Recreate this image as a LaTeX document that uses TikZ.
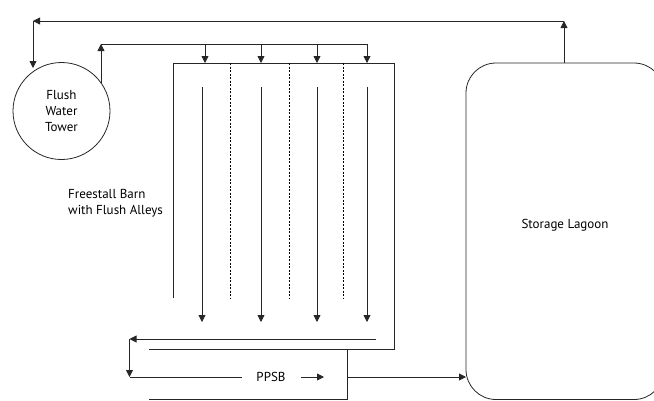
\documentclass[tikz,border=0pt]{standalone}
\usepackage{fontspec}
\setmainfont{PT Sans}
\usetikzlibrary{arrows.meta}
\begin{document}
\begin{tikzpicture}[x=1pt,y=-1pt,
  ln/.style={line width=0.8pt,draw=black!85},
  arr/.style={ln,-{Triangle[length=7pt,width=7pt]}},
  dsh/.style={line width=0.8pt,dash pattern=on 2pt off 1.5pt},
  lbl/.style={font=\fontsize{13}{16}\selectfont,inner sep=0pt}]
\useasboundingbox (0,0) rectangle (654,400);
% tower
\node[ln,draw,circle,minimum size=97pt,inner sep=0pt,align=center,lbl] (tower) at (61.5,111) {Flush\\Water\\Tower};
% lagoon
\draw[ln,rounded corners=30pt] (466,63) rectangle (664,399.5);
\node[lbl] (lagoon) at (565,225) {Storage Lagoon};
\coordinate (lagtop) at (564,63);
\coordinate (lagin) at (466,377);
% barn
\coordinate (b1) at (173,63);
\coordinate (b2) at (394,63);
\draw[ln] (173,298) -- (b1) -- (b2) -- (394,349) -- (149,349);
\node[lbl,align=left,anchor=west] (barnlbl) at (68,203.5) {Freestall Barn\\with Flush Alleys};
% return line to tower
\coordinate (r1) at (564,21);
\coordinate (r2) at (33,21);
\coordinate (r3) at (33,68);
\draw[arr] (lagtop) -- (r1);
\draw[arr] (r1) -- (r2);
\draw[arr] (r2) -- (r3);
% supply line
\coordinate (s0) at (101,83);
\coordinate (s1) at (101,44);
\coordinate (s2) at (367,44);
\draw[arr] (s0) -- (s1);
\draw[ln] (s1) -- (s2);
\foreach \x/\n in {205/a,261/b,317/c,367/d}{
  \coordinate (f\n) at (\x,44);
  \coordinate (g\n) at (\x,63);
  \draw[arr] (f\n) -- (g\n);
}
% alleys
\foreach \x/\n in {202/a,261/b,317/c,367/d}{
  \coordinate (h\n) at (\x,87);
  \coordinate (k\n) at (\x,322);
  \draw[arr] (h\n) -- (k\n);
}
\foreach \x in {230,289,343}{
  \draw[dsh] (\x,63) -- (\x,298);
}
% collection
\coordinate (c1) at (376,339);
\coordinate (c2) at (129.5,339);
\coordinate (c3) at (129.5,377);
\draw[arr] (c1) -- (c2);
\draw[arr] (c2) -- (c3);
\coordinate (p1) at (242,377);
\draw[ln] (c3) -- (p1);
\node[lbl] (ppsb) at (271,377) {PPSB};
\coordinate (p2) at (301,377);
\coordinate (p3) at (324,377);
\draw[arr] (p2) -- (p3);
% PPSB box
\draw[ln] (347,349) -- (347,399) -- (149,399);
\coordinate (p4) at (347,377);
\draw[arr] (p4) -- (lagin);
\end{tikzpicture}
\end{document}
